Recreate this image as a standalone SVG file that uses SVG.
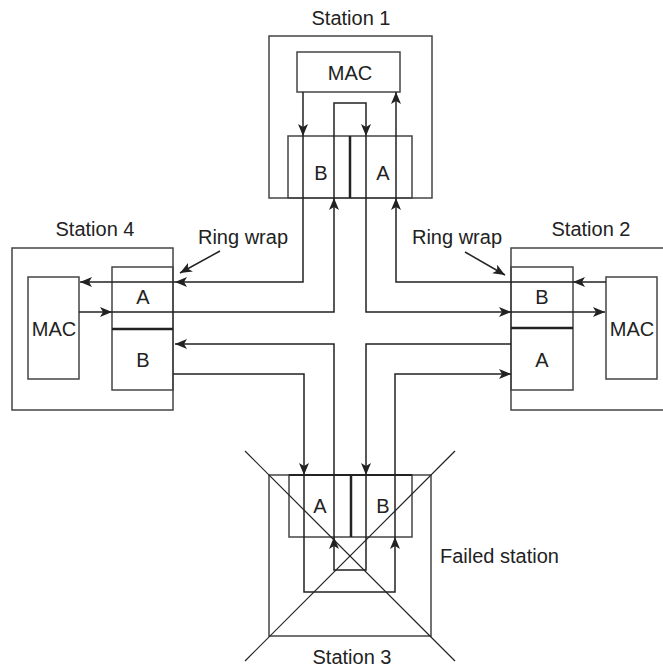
<svg xmlns="http://www.w3.org/2000/svg" width="663" height="669" viewBox="0 0 663 669">
<style>
.box{fill:none;stroke:#444;stroke-width:1.5}
.div{fill:none;stroke:#222;stroke-width:2.5}
.c{fill:none;stroke:#222;stroke-width:1.5}
.a{fill:none;stroke:#222;stroke-width:1.5;marker-end:url(#ah)}
.x{fill:none;stroke:#222;stroke-width:1.2}
text{font-family:"Liberation Sans",Arial,sans-serif;font-size:20px;fill:#222;text-anchor:middle}
</style>
<defs>
<marker id="ah" markerUnits="userSpaceOnUse" markerWidth="14" markerHeight="10" refX="12" refY="5" orient="auto">
<path d="M0,0 L12,5 L0,10 L3,5 z" fill="#222"/>
</marker>
</defs>
<rect width="663" height="669" fill="#fff"/>

<g id="station1">
<rect class="box" x="269" y="36" width="163" height="162"/>
<rect class="box" x="297" y="52" width="103" height="40"/>
<rect class="box" x="288" y="136" width="124" height="62"/>
<line class="div" x1="350" y1="136" x2="350" y2="198"/>
<text x="351" y="25">Station 1</text>
<text x="350" y="80">MAC</text>
<text x="321" y="180">B</text>
<text x="383" y="180">A</text>
</g>

<g id="station4">
<rect class="box" x="12" y="248" width="161" height="162"/>
<rect class="box" x="112" y="267" width="61" height="123"/>
<line class="div" x1="112" y1="329" x2="173" y2="329"/>
<rect class="box" x="28" y="277" width="51" height="102"/>
<text x="95" y="236">Station 4</text>
<text x="54" y="336">MAC</text>
<text x="143" y="304">A</text>
<text x="143" y="367">B</text>
</g>

<g id="station2">
<path class="box" d="M665,248 H511 V410 H665"/>
<rect class="box" x="511" y="267" width="62" height="123"/>
<line class="div" x1="511" y1="328" x2="573" y2="328"/>
<rect class="box" x="606" y="277" width="51" height="102"/>
<text x="591" y="236">Station 2</text>
<text x="632" y="336">MAC</text>
<text x="542" y="304">B</text>
<text x="542" y="367">A</text>
</g>

<g id="station3">
<rect class="box" x="269" y="475" width="162" height="161"/>
<rect class="box" x="289" y="475" width="123" height="62"/>
<line class="div" x1="351" y1="475" x2="351" y2="537"/>
<line class="div" x1="289" y1="475" x2="412" y2="475" style="stroke-width:2"/>
<text x="320" y="513">A</text>
<text x="383" y="513">B</text>
<text x="352" y="664">Station 3</text>
<line class="x" x1="245" y1="451" x2="455" y2="661"/>
<line class="x" x1="455" y1="451" x2="245" y2="661"/>
</g>

<g id="labels">
<text x="243" y="244">Ring wrap</text>
<text x="457" y="244">Ring wrap</text>
<text x="440" y="563" style="text-anchor:start">Failed station</text>
</g>

<g id="connectors">
<path class="a" d="M303,92 V136"/>
<path class="a" d="M303,136 V282 H175"/>
<path class="a" d="M175,282 H80"/>

<path class="a" d="M79,312 H112"/>
<path class="a" d="M112,312 H334 V198"/>
<path class="a" d="M334,198 V103 H366 V136"/>
<path class="a" d="M366,136 V312 H511"/>
<path class="a" d="M511,312 H605"/>

<path class="a" d="M606,282 H573"/>
<path class="a" d="M573,282 H396 V198"/>
<path class="a" d="M396,198 V92"/>

<path class="a" d="M173,374 H304 V475"/>
<path class="a" d="M304,475 V592 H395 V537"/>
<path class="a" d="M395,537 V374 H511"/>

<path class="a" d="M511,344 H366 V475"/>
<path class="a" d="M366,475 V570 H334 V537"/>
<path class="a" d="M334,537 V344 H175"/>

<path class="a" d="M220,251 L180,273"/>
<path class="a" d="M465,252 L505,275"/>
</g>
</svg>
